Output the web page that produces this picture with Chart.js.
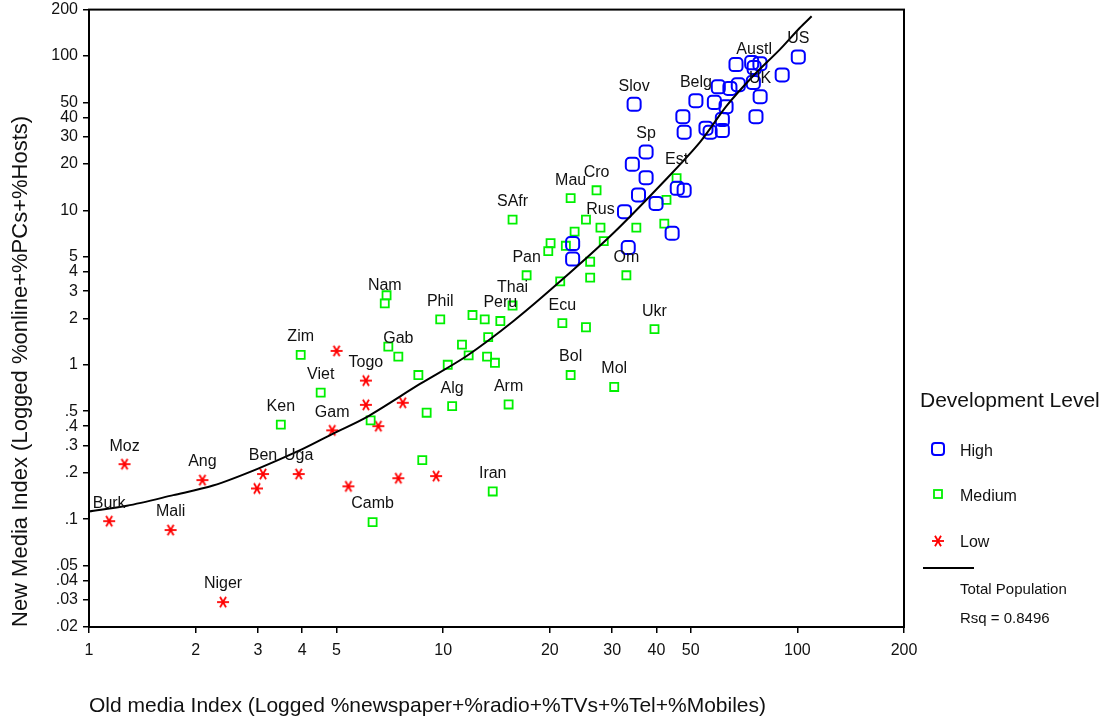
<!DOCTYPE html>
<html>
<head>
<meta charset="utf-8">
<script src="https://cdn.jsdelivr.net/npm/chart.js@4"></script>
<style>
  body { margin: 0; background: #fff; }
  canvas { display: block; }
</style>
</head>
<body>
<canvas id="myChart" width="1109" height="723"></canvas>
<script>
// values (old media index, new media index)
const highNames = ['US','','','','','Austl','','UK','','','','Belg','','','','','','','','','','Slov','Sp','','','','','','','','','','',''];
const highX = [100.6, 90.6, 67.1, 74.3, 78.4, 75.5, 75.1, 78.5, 68.1, 64.5, 59.8, 51.7, 58.3, 62.9, 47.5, 76.4, 61.4, 47.9, 55.2, 56.7, 61.4, 34.6, 37.4, 34.2, 37.4, 45.8, 47.9, 35.6, 39.9, 32.5, 44.3, 33.3, 23.2, 23.2];
const highY = [98.7, 75.5, 88.1, 90.7, 89.3, 84.2, 67.4, 54.5, 65.2, 61.7, 63.2, 51.4, 50.1, 47.0, 40.5, 40.5, 38.8, 32.1, 34.1, 32.1, 32.9, 48.7, 23.9, 19.9, 16.3, 13.9, 13.5, 12.6, 11.1, 9.81, 7.11, 5.75, 6.10, 4.84];

const mediumNames = ['Zim','Viet','Ken','','Nam','Phil','','','Peru','Thai','Pan','','Gab','','','','','','','','','Alg','Arm','','','Iran','Camb','SAfr','Mau','Cro','','Rus','','','','','','','','','','Om','Ecu','','Ukr','Bol','Mol','Est','',''];
const mediumX = [3.96, 4.51, 3.48, 6.92, 6.84, 9.81, 12.1, 13.1, 14.5, 15.7, 17.2, 7.0, 7.47, 8.51, 10.3, 11.3, 11.8, 13.4, 13.3, 14.0, 8.98, 10.6, 15.3, 6.24, 8.73, 13.8, 6.32, 15.7, 22.9, 27.1, 25.3, 27.8, 23.5, 20.1, 19.8, 22.2, 28.4, 35.1, 26.0, 21.4, 26.0, 32.9, 21.7, 25.3, 39.5, 22.9, 30.4, 45.6, 42.7, 42.1];
const mediumY = [1.16, 0.66, 0.409, 2.82, 2.50, 1.97, 2.10, 1.97, 1.92, 2.42, 3.80, 1.31, 1.13, 0.858, 1.0, 1.35, 1.15, 1.51, 1.13, 1.03, 0.489, 0.539, 0.553, 0.436, 0.241, 0.151, 0.0957, 8.71, 12.0, 13.5, 8.71, 7.74, 7.29, 6.13, 5.45, 5.90, 6.32, 7.74, 4.65, 3.47, 3.67, 3.80, 1.86, 1.75, 1.70, 0.858, 0.718, 16.2, 11.7, 8.21];

const lowNames = ['Burk','Moz','Mali','Ang','Niger','','Ben','Uga','Gam','','','Togo','','','','',''];
const lowX = [1.14, 1.26, 1.70, 2.09, 2.39, 2.98, 3.10, 3.91, 4.86, 5.00, 5.40, 6.05, 6.05, 7.69, 6.56, 7.47, 9.55];
const lowY = [0.097, 0.227, 0.085, 0.179, 0.029, 0.158, 0.196, 0.196, 0.376, 1.23, 0.163, 0.79, 0.55, 0.567, 0.40, 0.184, 0.19];

// fit line (Total Population)
const fitX = [1.0, 1.28, 1.73, 2.24, 2.98, 4.03, 4.89, 6.08, 8.60, 11.65, 15.8, 21.4, 30.2, 42.8, 53.1, 63.2, 75.1, 89.3, 101.5, 109.7];
const fitY = [0.112, 0.122, 0.143, 0.165, 0.211, 0.286, 0.358, 0.458, 0.751, 1.14, 1.92, 3.47, 7.11, 16.1, 27.7, 47.7, 74.5, 110.5, 152, 181];

const xTicks = [1, 2, 3, 4, 5, 10, 20, 30, 40, 50, 100, 200];
const yTicks = [0.02, 0.03, 0.04, 0.05, 0.1, 0.2, 0.3, 0.4, 0.5, 1, 2, 3, 4, 5, 10, 20, 30, 40, 50, 100, 200];

const FONT = "'Liberation Sans', Arial, sans-serif";

function pts(xs, ys) {
  return xs.map((x, i) => ({ x: x, y: ys[i] }));
}

// red asterisk marker
function makeStar(size) {
  const c = document.createElement('canvas');
  c.width = size; c.height = size;
  const g = c.getContext('2d');
  g.strokeStyle = '#ff0000';
  g.lineWidth = 1.8;
  const r = size / 2 - 1;
  g.translate(size / 2, size / 2);
  [0, 60, 120].forEach(a => {
    const t = a * Math.PI / 180;
    g.beginPath();
    g.moveTo(-Math.cos(t) * r, -Math.sin(t) * r);
    g.lineTo(Math.cos(t) * r, Math.sin(t) * r);
    g.stroke();
  });
  return c;
}
const starImg = makeStar(14);

function fmtY(v) {
  return v >= 1 ? String(v) : String(v).replace(/^0/, '');
}

const labelPlugin = {
  id: 'pointLabels',
  afterDatasetsDraw(chart) {
    const ctx = chart.ctx;
    ctx.save();
    ctx.font = '16px ' + FONT;
    ctx.fillStyle = '#111';
    ctx.textAlign = 'center';
    ctx.textBaseline = 'middle';
    chart.data.datasets.forEach((ds, di) => {
      if (!ds.names) return;
      const meta = chart.getDatasetMeta(di);
      meta.data.forEach((el, i) => {
        if (ds.names[i]) ctx.fillText(ds.names[i], el.x, el.y - 18);
      });
    });
    ctx.restore();
  }
};

const framePlugin = {
  id: 'frame',
  afterDraw(chart) {
    const ctx = chart.ctx;
    const a = chart.chartArea;
    ctx.save();
    ctx.strokeStyle = '#000';
    ctx.lineWidth = 2;
    ctx.strokeRect(a.left, a.top, a.right - a.left, a.bottom - a.top);

    // legend
    ctx.fillStyle = '#111';
    ctx.textBaseline = 'middle';
    ctx.textAlign = 'left';
    ctx.font = '21px ' + FONT;
    ctx.fillText('Development Level', 920, 401);

    ctx.font = '16px ' + FONT;
    ctx.strokeStyle = '#0000ff';
    ctx.lineWidth = 2;
    ctx.beginPath();
    ctx.roundRect(932, 443, 12, 12, 3);
    ctx.stroke();
    ctx.fillText('High', 960, 452);

    ctx.strokeStyle = '#00f000';
    ctx.lineWidth = 1.8;
    ctx.strokeRect(934, 490, 8, 8);
    ctx.fillText('Medium', 960, 497);

    ctx.drawImage(starImg, 938 - 7, 541 - 7);
    ctx.fillText('Low', 960, 543);

    ctx.strokeStyle = '#000';
    ctx.lineWidth = 2;
    ctx.beginPath();
    ctx.moveTo(923, 568);
    ctx.lineTo(974, 568);
    ctx.stroke();

    ctx.font = '15px ' + FONT;
    ctx.fillText('Total Population', 960, 590);
    ctx.fillText('Rsq = 0.8496', 960, 619);
    ctx.restore();
  }
};

const myChart = document.getElementById('myChart');

let scatterChart = new Chart(myChart, {
  type: 'scatter',
  data: {
    datasets: [
      {
        label: 'Total Population',
        data: pts(fitX, fitY),
        showLine: true,
        borderColor: '#000',
        borderWidth: 2,
        pointRadius: 0,
        tension: 0.3,
        fill: false
      },
      {
        label: 'High',
        names: highNames,
        data: pts(highX, highY),
        pointStyle: 'rectRounded',
        pointRadius: 7.6,
        borderColor: '#0000ff',
        backgroundColor: 'rgba(0,0,0,0)',
        borderWidth: 2
      },
      {
        label: 'Medium',
        names: mediumNames,
        data: pts(mediumX, mediumY),
        pointStyle: 'rect',
        pointRadius: 5.7,
        borderColor: '#00f000',
        backgroundColor: 'rgba(0,0,0,0)',
        borderWidth: 1.8
      },
      {
        label: 'Low',
        names: lowNames,
        data: pts(lowX, lowY),
        pointStyle: starImg,
        pointRadius: 7,
        borderColor: '#ff0000',
        backgroundColor: '#ff0000'
      }
    ]
  },
  options: {
    responsive: false,
    animation: false,
    devicePixelRatio: 1,
    layout: { padding: { left: 0, right: 205, top: 9, bottom: 0 } },
    plugins: {
      legend: { display: false },
      tooltip: { enabled: false }
    },
    scales: {
      x: {
        type: 'logarithmic',
        min: 1,
        max: 200,
        afterBuildTicks: (scale) => { scale.ticks = xTicks.map(v => ({ value: v })); },
        afterFit: (scale) => {
          scale.height = 96;
          scale.paddingLeft = 0;
          scale.paddingRight = 0;
        },
        ticks: {
          autoSkip: false,
          maxRotation: 0,
          padding: 8,
          color: '#111',
          font: { family: FONT, size: 16 },
          callback: (v) => String(v)
        },
        grid: { drawOnChartArea: false, drawTicks: true, tickLength: 6, color: '#000', lineWidth: 1.5 },
        border: { color: '#000', width: 2 },
        title: {
          display: true,
          align: 'start',
          text: 'Old media Index (Logged %newspaper+%radio+%TVs+%Tel+%Mobiles)',
          color: '#111',
          font: { family: FONT, size: 21 },
          padding: { top: 0, bottom: 4 }
        }
      },
      y: {
        type: 'logarithmic',
        min: 0.02,
        max: 200,
        afterBuildTicks: (scale) => { scale.ticks = yTicks.map(v => ({ value: v })); },
        afterFit: (scale) => {
          scale.width = 89;
          scale.paddingTop = 0;
          scale.paddingBottom = 0;
        },
        ticks: {
          autoSkip: false,
          padding: 5,
          color: '#111',
          font: { family: FONT, size: 16 },
          callback: (v) => fmtY(v)
        },
        grid: { drawOnChartArea: false, drawTicks: true, tickLength: 6, color: '#000', lineWidth: 1.5 },
        border: { color: '#000', width: 2 },
        title: {
          display: true,
          align: 'start',
          text: 'New Media Index (Logged %online+%PCs+%Hosts)',
          color: '#111',
          font: { family: FONT, size: 22 },
          padding: { top: 8, bottom: 0 }
        }
      }
    }
  },
  plugins: [labelPlugin, framePlugin]
});
</script>
</body>
</html>
